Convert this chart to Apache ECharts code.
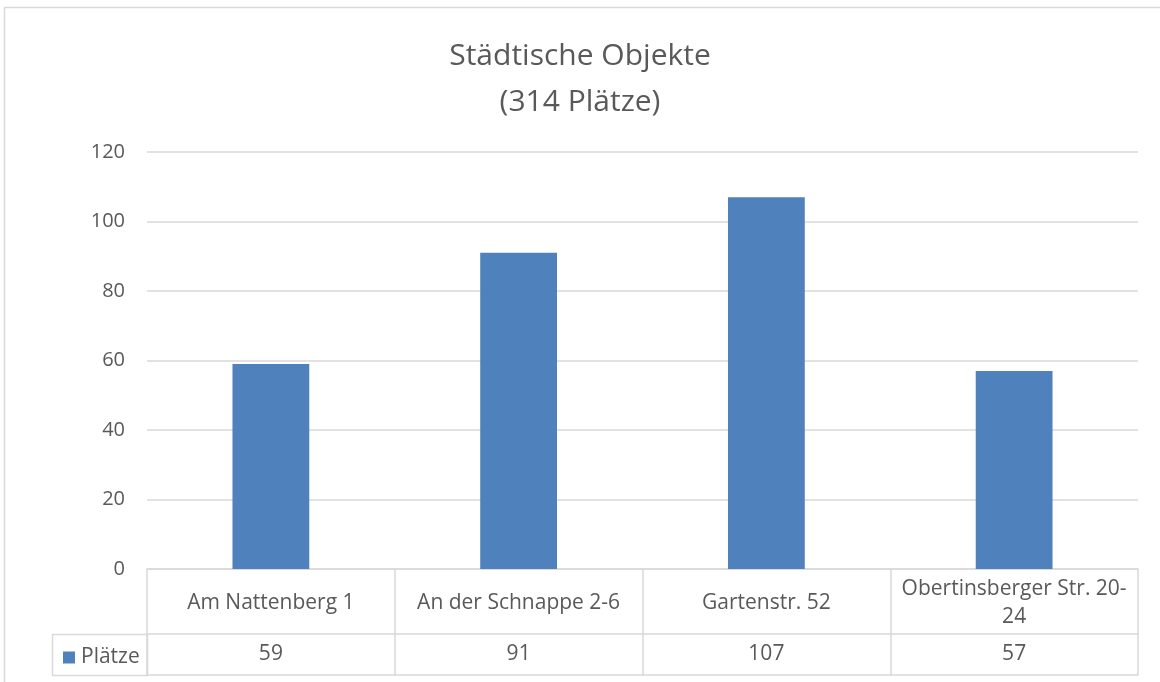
<!DOCTYPE html>
<html>
<head>
<meta charset="utf-8">
<script src="https://cdn.jsdelivr.net/npm/echarts@6/dist/echarts.min.js"></script>
<style>
html,body{margin:0;padding:0;background:#fff;}
#c{width:1160px;height:682px;}
</style>
</head>
<body>
<div id="c"></div>
<script>
const titleLines = ['Städtische Objekte', '(314 Plätze)'];
const categories = ['Am Nattenberg 1', 'An der Schnappe 2-6', 'Gartenstr. 52', 'Obertinsberger Str. 20-24'];
const seriesName = 'Plätze';
const values = [59, 91, 107, 57];
const yTicks = [0, 20, 40, 60, 80, 100, 120];

const FONT = 'Open Sans';
const GREY = '#595959';
const LINE = '#d9d9d9';

const chart = echarts.init(document.getElementById('c'));
chart.setOption({
  animation: false,
  textStyle: {fontFamily: FONT},
  title: {
    text: titleLines.join('\n'),
    left: 'center',
    top: 28,
    textStyle: {fontFamily: FONT, fontSize: 30, fontWeight: 'normal', color: GREY, lineHeight: 46}
  },
  legend: {
    data: [seriesName],
    left: 58,
    top: 642,
    icon: 'rect',
    itemWidth: 12,
    itemHeight: 12,
    textStyle: {fontFamily: FONT, fontSize: 21, color: GREY, padding: [0, 0, 0, 1]}
  },
  graphic: [
    {type: 'rect', silent: true, shape: {x: 4.5, y: 7.5, width: 1170, height: 700}, style: {fill: 'none', stroke: LINE, lineWidth: 1.5}},
    {type: 'rect', silent: true, shape: {x: 52.5, y: 634.5, width: 95, height: 41}, style: {fill: 'none', stroke: LINE, lineWidth: 1.5}}
  ],
  grid: {left: 147, right: 22, top: 152, bottom: 113, containLabel: false},
  xAxis: [
    {
      type: 'category',
      data: categories,
      position: 'bottom',
      axisLine: {show: true, lineStyle: {color: LINE, width: 1.5}},
      axisTick: {show: true, length: 106, interval: 0, lineStyle: {color: LINE, width: 1.5}},
      axisLabel: {
        interval: 0, margin: 34, verticalAlign: 'middle', color: GREY, fontSize: 21, fontFamily: FONT, lineHeight: 28,
        formatter: v => v.replace('20-24', '20-\n24')
      },
      splitLine: {show: false}
    },
    {
      type: 'category',
      data: categories,
      position: 'bottom',
      offset: 65,
      axisLine: {show: true, lineStyle: {color: LINE, width: 1.5}},
      axisTick: {show: false},
      axisLabel: {interval: 0, margin: 20, verticalAlign: 'middle', color: GREY, fontSize: 21, fontFamily: FONT,
        formatter: (v, i) => String(values[i])}
    },
    {
      type: 'category',
      data: categories,
      position: 'bottom',
      offset: 106,
      axisLine: {show: true, lineStyle: {color: LINE, width: 1.5}},
      axisTick: {show: false},
      axisLabel: {show: false}
    }
  ],
  yAxis: {
    type: 'value',
    min: yTicks[0],
    max: yTicks[yTicks.length - 1],
    interval: yTicks[1] - yTicks[0],
    axisLine: {show: false},
    axisTick: {show: false},
    axisLabel: {color: GREY, fontSize: 20, fontFamily: FONT, margin: 22},
    splitLine: {lineStyle: {color: LINE, width: 1.5}}
  },
  series: [{
    name: seriesName,
    type: 'bar',
    xAxisIndex: 0,
    data: values,
    barWidth: '31%',
    itemStyle: {color: '#4f81bd'}
  }]
});
</script>
</body>
</html>
